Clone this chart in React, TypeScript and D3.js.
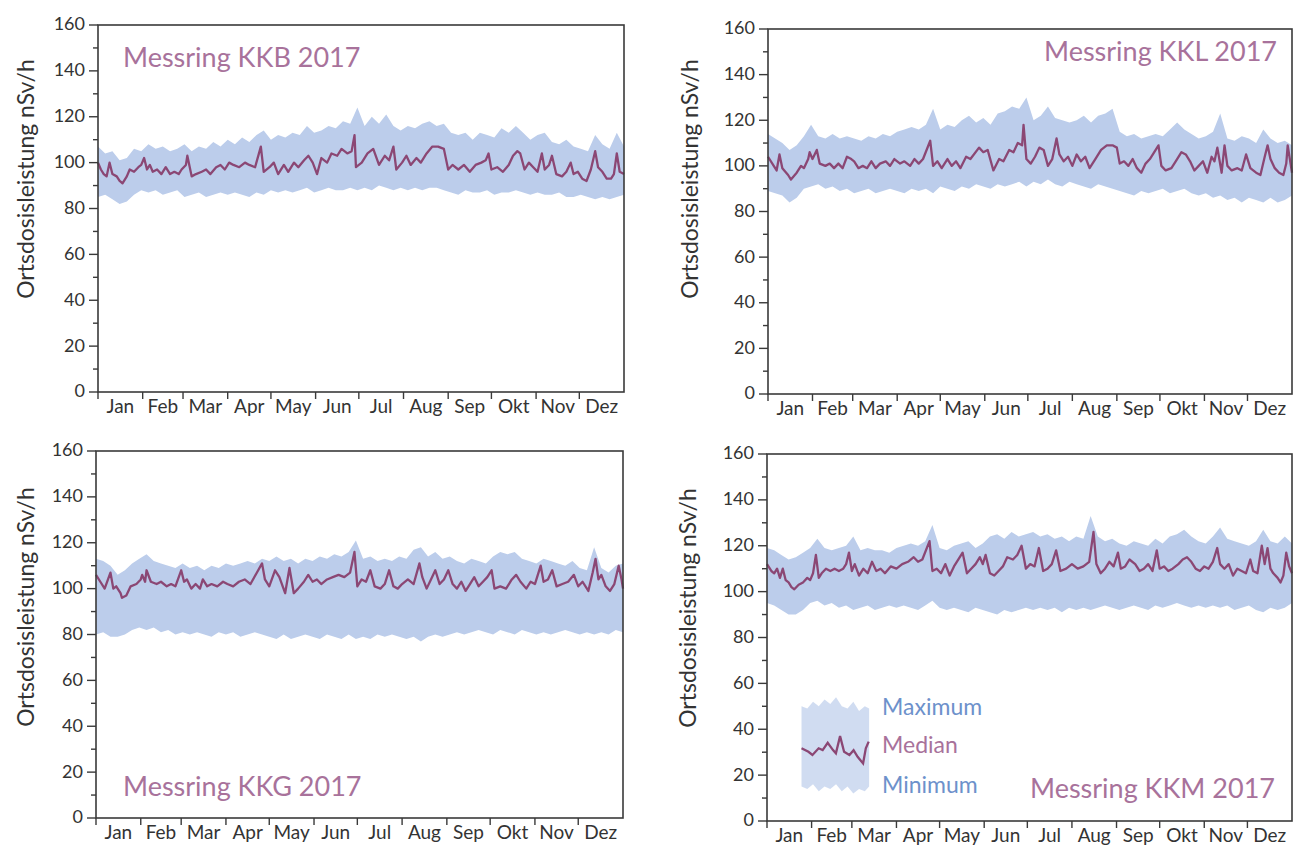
import React from 'react';
import * as d3 from 'd3';

const MONTHS = ['Jan', 'Feb', 'Mar', 'Apr', 'May', 'Jun', 'Jul', 'Aug', 'Sep', 'Okt', 'Nov', 'Dez'];
const MONTH_START = [0, 31, 59, 90, 120, 151, 181, 212, 243, 273, 304, 334, 365];
const Y_MAJOR = [0, 20, 40, 60, 80, 100, 120, 140, 160];
const Y_MINOR = [10, 30, 50, 70, 90, 110, 130, 150];
const BAND_DAYS = d3.range(0, 366, 5);

const KKB_MAX = [107,104,105,101,102,106,105,108,106,107,105,106,108,105,107,106,109,107,110,108,111,109,112,114,110,112,111,113,112,116,113,114,116,115,118,117,124,116,120,117,121,116,114,116,115,117,118,116,117,113,112,113,110,113,112,111,115,113,116,113,110,112,113,109,108,110,107,106,105,112,108,106,113,107];
const KKB_MIN = [85,86,84,82,83,86,88,87,88,86,87,88,85,86,87,85,86,87,86,87,86,85,87,86,88,87,88,87,88,89,87,88,89,88,88,89,88,89,88,90,89,88,89,88,89,88,89,89,88,87,86,88,87,87,88,86,87,87,88,87,86,87,86,86,87,85,85,86,85,84,85,84,85,86];
const KKB_MEDIAN: [number, number][] = [[0,100],[2,97],[4,95],[6,94],[8,100],[10,95],[13,94],[15,92],[17,91],[20,94],[22,97],[25,96],[28,98],[30,99],[32,102],[34,97],[36,99],[38,96],[41,97],[44,95],[47,98],[50,95],[53,96],[56,95],[58,97],[61,99],[62,103],[65,94],[68,95],[72,96],[75,97],[78,95],[82,98],[85,99],[88,97],[91,100],[94,99],[98,98],[102,100],[105,99],[109,98],[113,107],[115,96],[119,98],[122,100],[125,95],[129,99],[132,96],[136,100],[139,98],[143,101],[146,103],[149,100],[152,95],[155,102],[159,100],[162,104],[166,103],[169,106],[173,104],[176,105],[178,112],[179,98],[183,100],[187,104],[191,106],[195,99],[199,103],[202,101],[205,107],[207,97],[211,100],[214,103],[217,99],[221,102],[224,100],[228,104],[232,107],[236,107],[240,106],[243,97],[246,99],[250,97],[254,99],[258,96],[262,99],[266,100],[269,101],[271,104],[273,97],[277,98],[281,96],[285,99],[288,103],[291,105],[293,104],[296,97],[299,100],[302,98],[305,96],[308,104],[310,97],[313,99],[315,103],[318,95],[322,94],[325,96],[328,100],[330,95],[333,96],[336,93],[339,92],[342,97],[345,105],[347,98],[350,96],[353,93],[356,93],[358,95],[360,104],[362,96],[365,95]];

const KKL_MAX = [114,112,110,107,109,113,118,113,112,114,112,113,112,111,113,112,114,113,115,116,117,116,118,125,116,118,117,120,122,119,121,118,123,124,126,125,130,120,122,126,121,120,119,120,122,119,122,123,125,115,113,114,112,113,114,113,116,119,116,114,112,113,115,123,112,111,113,112,110,116,112,110,111,109];
const KKL_MIN = [89,88,87,84,86,90,91,92,90,91,89,90,88,89,90,88,89,90,89,88,90,89,90,88,91,90,89,91,90,92,91,90,92,91,92,93,91,93,92,94,92,91,93,92,91,90,92,91,90,89,88,87,89,88,89,90,88,89,90,88,87,88,86,87,85,86,84,86,85,84,86,84,85,87];
const KKL_MEDIAN: [number, number][] = [[0,104],[4,100],[6,98],[8,105],[10,99],[14,96],[16,94],[20,97],[23,100],[25,99],[28,103],[29,106],[31,103],[34,107],[36,101],[40,100],[43,101],[46,99],[49,101],[52,99],[55,104],[58,103],[60,102],[63,99],[66,100],[69,99],[72,102],[75,99],[78,101],[82,102],[85,100],[88,103],[92,101],[95,102],[99,100],[102,103],[105,101],[108,103],[113,111],[115,100],[118,102],[121,99],[125,103],[128,100],[131,102],[134,99],[138,104],[141,103],[147,108],[150,106],[153,107],[157,98],[161,103],[164,102],[168,107],[171,106],[174,110],[177,109],[178,118],[180,103],[183,101],[186,104],[189,108],[192,107],[195,100],[198,103],[201,112],[203,105],[206,102],[209,104],[212,100],[215,105],[218,102],[221,104],[224,99],[228,103],[232,107],[236,109],[240,109],[243,108],[245,101],[248,102],[251,100],[254,103],[257,99],[260,97],[263,101],[266,103],[272,109],[274,100],[277,98],[281,99],[284,102],[288,106],[291,105],[294,102],[297,98],[300,100],[303,102],[306,97],[309,104],[311,102],[313,108],[316,97],[318,109],[320,100],[323,98],[327,99],[330,98],[333,105],[336,99],[340,97],[343,96],[346,104],[348,109],[350,103],[353,99],[356,97],[359,96],[361,101],[362,109],[364,101],[365,97]];

const KKG_MAX = [113,112,110,106,108,111,113,115,112,111,110,109,111,109,110,108,110,109,111,110,111,112,111,113,112,114,112,113,111,113,112,114,113,115,114,116,121,113,114,112,113,112,114,113,117,118,114,116,113,114,112,111,113,112,111,114,116,115,116,113,112,111,113,112,111,110,112,109,108,118,109,107,110,111];
const KKG_MIN = [80,81,79,79,80,82,83,82,83,81,82,80,81,80,81,80,79,81,80,81,79,80,81,80,79,78,80,78,79,80,79,78,80,79,78,80,78,79,78,80,79,80,79,78,79,77,79,80,79,80,81,80,81,82,81,80,82,81,80,82,81,80,81,80,81,82,81,80,81,80,81,80,82,81];
const KKG_MEDIAN: [number, number][] = [[0,106],[3,103],[6,100],[10,107],[12,100],[14,101],[17,98],[18,96],[21,97],[24,101],[28,102],[31,104],[32,106],[34,103],[35,108],[38,103],[42,102],[45,103],[49,101],[52,102],[55,101],[59,108],[61,103],[63,104],[66,100],[69,102],[72,100],[74,104],[77,101],[80,102],[84,101],[88,103],[91,102],[95,101],[99,103],[103,104],[107,102],[115,111],[117,104],[120,101],[124,108],[127,105],[131,98],[134,109],[137,98],[140,100],[144,103],[147,106],[150,103],[153,104],[156,102],[160,104],[164,105],[168,106],[172,105],[176,107],[179,116],[181,101],[184,104],[187,103],[190,108],[193,101],[197,100],[200,102],[203,108],[206,101],[209,100],[212,102],[216,104],[220,102],[224,111],[226,105],[229,100],[232,104],[235,108],[238,102],[241,104],[244,108],[247,102],[250,100],[253,103],[256,99],[259,102],[262,105],[265,101],[268,103],[271,105],[274,108],[276,100],[280,101],[284,100],[288,104],[291,106],[294,103],[298,100],[301,103],[304,102],[308,110],[310,103],[313,104],[316,108],[319,101],[323,102],[327,103],[331,106],[334,101],[337,103],[341,99],[344,107],[346,113],[348,104],[350,106],[353,101],[356,99],[359,102],[362,110],[364,104],[365,100]];

const KKM_MAX = [119,118,116,114,115,117,119,123,119,118,119,120,124,118,119,118,118,117,119,120,121,120,122,129,119,118,120,121,122,119,121,124,125,123,126,124,125,126,124,125,123,124,122,124,123,133,124,122,123,121,120,122,121,120,123,121,124,125,127,124,122,121,124,128,123,122,121,120,122,127,122,121,124,121];
const KKM_MIN = [95,94,92,90,90,92,95,96,94,95,93,94,92,93,94,92,93,94,93,94,93,92,94,96,93,92,93,92,91,93,92,91,90,92,91,92,93,92,93,92,93,91,93,92,93,92,93,94,93,92,93,94,93,92,94,93,94,95,94,93,94,93,94,93,94,92,93,94,92,91,93,92,93,95];
const KKM_MEDIAN: [number, number][] = [[0,112],[3,109],[5,108],[7,110],[9,106],[11,110],[13,105],[15,104],[17,102],[19,101],[22,103],[25,104],[28,106],[30,105],[32,108],[34,116],[36,106],[38,108],[41,110],[44,109],[47,110],[50,109],[53,110],[55,112],[57,117],[59,109],[61,112],[64,107],[67,110],[70,108],[73,113],[76,109],[79,110],[82,108],[86,111],[90,110],[94,112],[98,113],[102,115],[105,113],[108,114],[113,122],[115,109],[118,110],[121,108],[124,112],[127,107],[130,111],[136,117],[139,108],[142,110],[145,112],[148,115],[150,112],[152,116],[155,108],[158,107],[161,109],[164,111],[167,115],[171,114],[174,116],[177,120],[180,110],[183,112],[186,111],[189,119],[192,109],[195,110],[198,112],[201,118],[204,109],[208,110],[212,112],[216,110],[220,111],[224,113],[227,126],[229,112],[232,108],[235,110],[238,113],[241,111],[244,117],[246,110],[249,111],[252,114],[256,112],[259,109],[262,110],[265,112],[268,109],[271,118],[273,110],[276,111],[279,109],[282,110],[286,112],[289,114],[292,115],[295,113],[298,110],[301,109],[304,111],[307,110],[310,113],[313,119],[315,112],[318,110],[321,112],[324,107],[327,110],[330,109],[333,108],[336,114],[338,109],[341,108],[344,120],[346,112],[348,119],[350,110],[352,108],[355,106],[357,104],[359,107],[361,117],[363,111],[365,108]];

const LEGEND_DAYS = [24, 28, 32, 36, 40, 44, 48, 52, 56, 60, 64, 68, 71];
const LEGEND_MAX = [50, 49, 52, 50, 53, 51, 54, 50, 49, 52, 48, 50, 49];
const LEGEND_MIN = [15, 14, 16, 13, 15, 14, 16, 13, 15, 12, 14, 13, 15];
const LEGEND_MEDIAN: [number, number][] = [[24,31.7],[28.8,30.2],[31.6,28.8],[35.9,31.7],[38.7,30.9],[42.2,34.1],[45.9,30.9],[47.9,29.5],[50.8,37],[53.6,30.2],[57.3,28.8],[60.2,30.9],[63,28],[66.8,25.1],[68.7,31.7],[70.7,34.6]];
const LEGEND_LABELS = ['Maximum', 'Median', 'Minimum'];

const FONT = "Lato, 'Open Sans', sans-serif";
const BAND_COLOR = '#bccdeb';
const MEDIAN_COLOR = '#8b4774';
const TITLE_COLOR = '#a8729b';
const LEGEND_BLUE = '#6d91cb';
const AXIS_COLOR = '#3a3a3a';
const TEXT_COLOR = '#333333';

type Layout = { left: number; right: number; top: number; bottom: number; labelX: number; labelY: number };

type PanelProps = {
  layout: Layout;
  max: number[];
  min: number[];
  median: [number, number][];
  title: string;
  titleX: number;
  titleY: number;
  titleAnchor: 'start' | 'end';
  legend?: boolean;
};

function Panel({ layout, max, min, median, title, titleX, titleY, titleAnchor, legend }: PanelProps) {
  const { left, right, top, bottom, labelX, labelY } = layout;
  const x = d3.scaleLinear().domain([0, 365]).range([left, right]);
  const y = d3.scaleLinear().domain([0, 160]).range([bottom, top]);
  const n = Math.min(BAND_DAYS.length, max.length, min.length);
  const band = d3.range(n).map((i) => ({ d: BAND_DAYS[i], hi: max[i], lo: min[i] }));
  const area = d3
    .area<{ d: number; hi: number; lo: number }>()
    .x((p) => x(p.d))
    .y0((p) => y(p.lo))
    .y1((p) => y(p.hi));
  const line = d3
    .line<[number, number]>()
    .x((p) => x(p[0]))
    .y((p) => y(p[1]));

  let legendEls: React.ReactNode = null;
  if (legend) {
    const lband = LEGEND_DAYS.map((d, i) => ({ d, hi: LEGEND_MAX[i], lo: LEGEND_MIN[i] }));
    const tx = x(80);
    legendEls = (
      <g>
        <path d={area(lband) || ''} fill={BAND_COLOR} opacity={0.7} />
        <path d={line(LEGEND_MEDIAN) || ''} fill="none" stroke={MEDIAN_COLOR} strokeWidth={2.3} />
        <text x={tx} y={y(49.7) + 8} fontFamily={FONT} fontSize={23} fill={LEGEND_BLUE}>{LEGEND_LABELS[0]}</text>
        <text x={tx} y={y(33.1) + 8} fontFamily={FONT} fontSize={23} fill={TITLE_COLOR}>{LEGEND_LABELS[1]}</text>
        <text x={tx} y={y(15.7) + 8} fontFamily={FONT} fontSize={23} fill={LEGEND_BLUE}>{LEGEND_LABELS[2]}</text>
      </g>
    );
  }

  return (
    <g>
      <path d={area(band) || ''} fill={BAND_COLOR} />
      <path d={line(median) || ''} fill="none" stroke={MEDIAN_COLOR} strokeWidth={2.3} strokeLinejoin="round" />
      {legendEls}
      <rect x={left} y={top} width={right - left} height={bottom - top} fill="none" stroke={AXIS_COLOR} strokeWidth={1.6} />
      {Y_MAJOR.map((v) => (
        <g key={'ym' + v}>
          <line x1={left - 9} x2={left} y1={y(v)} y2={y(v)} stroke={AXIS_COLOR} strokeWidth={1.4} />
          <text x={left - 13} y={y(v)} dy="0.3em" textAnchor="end" fontFamily={FONT} fontSize={18} fill={TEXT_COLOR}>
            {v}
          </text>
        </g>
      ))}
      {Y_MINOR.map((v) => (
        <line key={'yn' + v} x1={left - 5} x2={left} y1={y(v)} y2={y(v)} stroke={AXIS_COLOR} strokeWidth={1.4} />
      ))}
      {MONTH_START.slice(0, 12).map((d) => (
        <line key={'xt' + d} x1={x(d)} x2={x(d)} y1={bottom} y2={bottom + 7} stroke={AXIS_COLOR} strokeWidth={1.4} />
      ))}
      {MONTHS.map((m, i) => (
        <text
          key={m}
          x={(x(MONTH_START[i]) + x(MONTH_START[i + 1])) / 2}
          y={bottom + 21}
          textAnchor="middle"
          fontFamily={FONT}
          fontSize={19}
          fill={TEXT_COLOR}
        >
          {m}
        </text>
      ))}
      <text
        transform={`translate(${labelX},${labelY}) rotate(-90)`}
        textAnchor="middle"
        fontFamily={FONT}
        fontSize={23}
        fill={TEXT_COLOR}
      >
        Ortsdosisleistung nSv/h
      </text>
      <text x={titleX} y={titleY} textAnchor={titleAnchor} fontFamily={FONT} fontSize={27} fill={TITLE_COLOR}>
        {title}
      </text>
    </g>
  );
}

export default function App() {
  return (
    <div style={{ position: 'absolute', left: 0, top: 0 }}>
      <svg width={1297} height={845} style={{ display: 'block', background: '#ffffff' }}>
        <Panel
          layout={{ left: 98, right: 624, top: 25, bottom: 392, labelX: 34, labelY: 179 }}
          max={KKB_MAX}
          min={KKB_MIN}
          median={KKB_MEDIAN}
          title="Messring KKB 2017"
          titleX={123}
          titleY={67}
          titleAnchor="start"
        />
        <Panel
          layout={{ left: 768, right: 1292, top: 29, bottom: 394, labelX: 698, labelY: 179 }}
          max={KKL_MAX}
          min={KKL_MIN}
          median={KKL_MEDIAN}
          title="Messring KKL 2017"
          titleX={1277}
          titleY={61}
          titleAnchor="end"
        />
        <Panel
          layout={{ left: 96, right: 623, top: 451, bottom: 818, labelX: 34, labelY: 607 }}
          max={KKG_MAX}
          min={KKG_MIN}
          median={KKG_MEDIAN}
          title="Messring KKG 2017"
          titleX={123}
          titleY={796}
          titleAnchor="start"
        />
        <Panel
          layout={{ left: 767, right: 1292, top: 454, bottom: 821, labelX: 696, labelY: 608 }}
          max={KKM_MAX}
          min={KKM_MIN}
          median={KKM_MEDIAN}
          title="Messring KKM 2017"
          titleX={1275}
          titleY={798}
          titleAnchor="end"
          legend
        />
      </svg>
    </div>
  );
}
